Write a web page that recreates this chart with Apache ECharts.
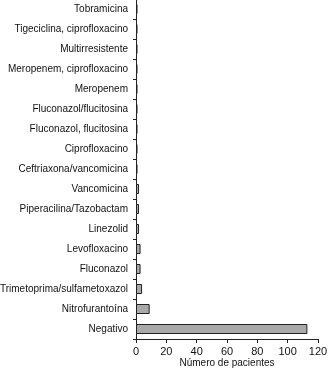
<!DOCTYPE html>
<html>
<head>
<meta charset="utf-8">
<script src="https://cdn.jsdelivr.net/npm/echarts@6/dist/echarts.min.js"></script>
<style>
  html, body { margin: 0; padding: 0; background: #fff; }
  #chart { width: 328px; height: 371px; }
</style>
</head>
<body>
<div id="chart"></div>
<script>
// categories listed bottom to top (category axis draws first at bottom)
var categories = [
    'Negativo',
    'Nitrofurantoína',
    'Trimetoprima/sulfametoxazol',
    'Fluconazol',
    'Levofloxacino',
    'Linezolid',
    'Piperacilina/Tazobactam',
    'Vancomicina',
    'Ceftriaxona/vancomicina',
    'Ciprofloxacino',
    'Fluconazol, flucitosina',
    'Fluconazol/flucitosina',
    'Meropenem',
    'Meropenem, ciprofloxacino',
    'Multirresistente',
    'Tigeciclina, ciprofloxacino',
    'Tobramicina'
];
var patients = [113, 9, 4, 3, 3, 2, 2, 2, 1, 1, 1, 1, 1, 1, 1, 1, 1];
var xTicks = [0, 20, 40, 60, 80, 100, 120];

var chart = echarts.init(document.getElementById('chart'));

chart.setOption({
    animation: false,
    grid: { left: 136, right: 10, top: -1, height: 340, containLabel: false, outerBoundsMode: 'none' },
    xAxis: {
        type: 'value',
        min: xTicks[0],
        max: xTicks[xTicks.length - 1],
        interval: 20,
        name: 'Número de pacientes',
        nameLocation: 'middle',
        nameGap: 19,
        nameMoveOverlap: false,
        nameTextStyle: { color: '#111', fontSize: 10, fontFamily: 'Liberation Sans' },
        axisLine: { show: true, lineStyle: { color: '#222', width: 1 } },
        axisTick: { show: true, length: 4, lineStyle: { color: '#222' } },
        axisLabel: { color: '#111', fontSize: 11, fontFamily: 'Liberation Sans', margin: 7 },
        splitLine: { show: false }
    },
    yAxis: {
        type: 'category',
        data: categories,
        axisLine: { show: true, lineStyle: { color: '#222', width: 1 } },
        axisTick: { show: true, length: 3, lineStyle: { color: '#222' } },
        axisLabel: { color: '#111', fontSize: 10, fontFamily: 'Liberation Sans', margin: 8 }
    },
    series: [{
        type: 'bar',
        data: patients,
        barWidth: 10,
        itemStyle: { color: '#a9a9a9', borderColor: '#222', borderWidth: 1 }
    }]
});
</script>
</body>
</html>
